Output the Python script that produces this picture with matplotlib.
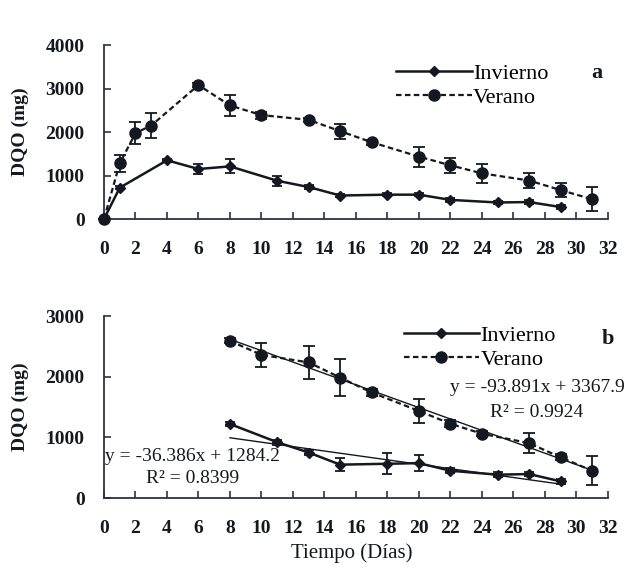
import matplotlib.pyplot as plt

# panel a data (days, DQO mg)
inv_days = [0, 1, 4, 6, 8, 11, 13, 15, 18, 20, 22, 25, 27, 29]
inv_vals = [0, 720, 1350, 1150, 1210, 880, 735, 540, 560, 560, 440, 380, 390, 275]
inv_err = [0, 30, 40, 110, 160, 110, 40, 40, 40, 40, 40, 30, 40, 40]

ver_days = [0, 1, 2, 3, 6, 8, 10, 13, 15, 17, 20, 22, 24, 27, 29, 31]
ver_vals = [0, 1280, 1975, 2150, 3080, 2610, 2390, 2280, 2020, 1765, 1435, 1235, 1050, 885, 665, 455]
ver_err = [0, 200, 260, 280, 50, 230, 80, 50, 170, 60, 230, 170, 220, 180, 170, 270]

# panel b data (from day 8 on)
inv_days_b = [8, 11, 13, 15, 18, 20, 22, 25, 27, 29]
inv_vals_b = [1220, 920, 750, 550, 565, 575, 450, 385, 395, 275]
inv_err_b = [40, 40, 40, 110, 170, 130, 40, 40, 40, 40]

ver_days_b = [8, 10, 13, 15, 17, 20, 22, 24, 27, 29, 31]
ver_vals_b = [2590, 2360, 2235, 1985, 1740, 1435, 1225, 1060, 905, 670, 450]
ver_err_b = [40, 200, 270, 300, 50, 200, 60, 40, 160, 50, 240]

# linear fits shown in panel b
ver_fit = (-93.891, 3367.9)
inv_fit = (-36.386, 1284.2)

plt.rcParams['font.family'] = ['Liberation Serif', 'DejaVu Serif']
ink = '#141820'
axc = '#2a3440'

fig = plt.figure(figsize=(6.33, 5.68), dpi=100)
ax1 = fig.add_axes([0.1643, 0.6144, 0.796, 0.3063])
ax2 = fig.add_axes([0.1643, 0.1232, 0.796, 0.3204])


def style(ax, ymax):
    ax.set_xlim(0, 32)
    ax.set_ylim(0, ymax)
    ax.set_xticks(range(0, 33, 2))
    ax.set_yticks(range(0, ymax + 1, 1000))
    for s in ['top', 'right']:
        ax.spines[s].set_visible(False)
    for s in ['left', 'bottom']:
        ax.spines[s].set_color(axc)
        ax.spines[s].set_linewidth(1.3)
    ax.tick_params(direction='in', length=5, width=1.2, color=axc,
                   labelsize=14, labelcolor=ink)
    ax.tick_params(axis='x', pad=16)
    ax.tick_params(axis='y', pad=14)
    for lb in ax.get_xticklabels() + ax.get_yticklabels():
        lb.set_fontweight('bold')
    ax.set_ylabel('DQO (mg)', fontsize=14, fontweight='bold', color=ink, labelpad=12)


def draw(ax, d1, v1, e1, d2, v2, e2):
    h1 = ax.errorbar(d1, v1, yerr=e1, fmt='-', color=ink, marker='D', ms=5,
                     lw=1.8, capsize=3.5, elinewidth=1.3, capthick=1.3,
                     clip_on=False, zorder=3)
    h2 = ax.errorbar(d2, v2, yerr=e2, fmt='--', color=ink, marker='o', ms=8,
                     lw=1.6, dashes=(2.5, 1.5), capsize=4, elinewidth=1.3,
                     capthick=1.3, clip_on=False, zorder=3)
    return h1, h2


style(ax1, 4000)
h1, h2 = draw(ax1, inv_days, inv_vals, inv_err, ver_days, ver_vals, ver_err)
ax1.legend([h1[0], h2[0]], ['Invierno', 'Verano'], loc='upper left',
           bbox_to_anchor=(0.54, 1.01), frameon=False, fontsize=16,
           handlelength=3.4, handletextpad=0.05, labelspacing=0.15)
ax1.text(31.3, 3360, 'a', fontsize=16, fontweight='bold', ha='center', va='center', color=ink)

style(ax2, 3000)
h1, h2 = draw(ax2, inv_days_b, inv_vals_b, inv_err_b, ver_days_b, ver_vals_b, ver_err_b)
xs = [8, 31]
ax2.plot(xs, [ver_fit[0] * x + ver_fit[1] for x in xs], color=ink, lw=1.0, zorder=2)
xs = [8, 29]
ax2.plot(xs, [inv_fit[0] * x + inv_fit[1] for x in xs], color=ink, lw=1.0, zorder=2)
ax2.legend([h1[0], h2[0]], ['Invierno', 'Verano'], loc='upper left',
           bbox_to_anchor=(0.555, 1.06), frameon=False, fontsize=16,
           handlelength=3.4, handletextpad=0.05, labelspacing=0.15)
ax2.text(32, 2620, 'b', fontsize=16, fontweight='bold', ha='center', va='center', color=ink)
ax2.text(27.5, 1830, 'y = -93.891x + 3367.9', fontsize=14, ha='center', va='center', color=ink)
ax2.text(27.5, 1410, 'R² = 0.9924', fontsize=14, ha='center', va='center', color=ink)
ax2.text(5.6, 680, 'y = -36.386x + 1284.2', fontsize=14, ha='center', va='center', color=ink)
ax2.text(5.6, 320, 'R² = 0.8399', fontsize=14, ha='center', va='center', color=ink)

fig.text(0.555, 0.027, 'Tiempo (Días)', fontsize=15, ha='center', va='center', color=ink)

fig.savefig('out.png', dpi=100)
